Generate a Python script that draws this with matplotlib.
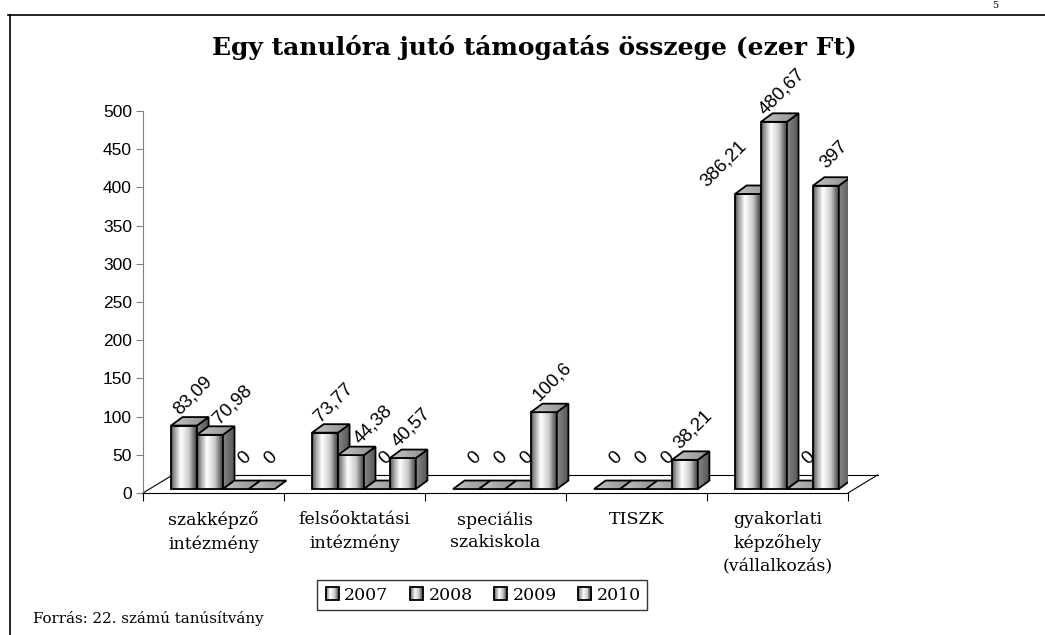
import numpy as np
import matplotlib.pyplot as plt
from matplotlib.colors import LinearSegmentedColormap
from matplotlib.patches import Polygon, Rectangle
from matplotlib.lines import Line2D
from matplotlib.legend_handler import HandlerBase

# data
categories = ['szakképző\nintézmény', 'felsőoktatási\nintézmény', 'speciális\nszakiskola',
              'TISZK', 'gyakorlati\nképzőhely\n(vállalkozás)']
years = ['2007', '2008', '2009', '2010']
v2007 = [83.09, 73.77, 0, 0, 386.21]
v2008 = [70.98, 44.38, 0, 0, 480.67]
v2009 = [0, 0, 0, 0, 0]
v2010 = [0, 40.57, 100.6, 38.21, 397]
yticks = list(range(0, 501, 50))

title = 'Egy tanulóra jutó támogatás összege (ezer Ft)'
source = 'Forrás: 22. számú tanúsítvány'
page_no = '5'

# fake 3d geometry (data units: x one group = 1, y = value)
W = 0.184          # bar width
X_OFF = 0.199      # first bar offset inside group
DX, DY = 0.082, 11.1   # depth of bars
BASE = 5.2         # bars stand a bit behind the front floor edge
FX, FY = 0.21, 23.6    # floor depth
LABEL_DY = 40

front_cmap = LinearSegmentedColormap.from_list(
    'front', [(0, '#404040'), (0.1, '#8a8a8a'), (0.38, '#ffffff'), (0.7, '#c8c8c8'), (1, '#3a3a3a')])
side_cmap = LinearSegmentedColormap.from_list('side', ['#858585', '#555555'])
top_cmap = LinearSegmentedColormap.from_list('top', ['#c4c4c4', '#8e8e8e'])
grad = np.linspace(0, 1, 256).reshape(1, -1)


def fmt(v):
    return f'{v:g}'.replace('.', ',')


def draw_bar(ax, x0, v, z, prev_v, next_v):
    y1 = BASE + v
    if v > 0:
        ax.imshow(grad, cmap=front_cmap, extent=(x0, x0 + W, BASE, y1), aspect='auto',
                  interpolation='bilinear', zorder=z)
        ax.add_patch(Rectangle((x0, BASE), W, v, fill=False, ec='k', lw=1.3, zorder=z + 0.01))
        side = Polygon([(x0 + W, BASE), (x0 + W + DX, BASE + DY), (x0 + W + DX, y1 + DY), (x0 + W, y1)],
                       closed=True, fill=False, ec='k', lw=1.3, zorder=z + 0.02)
        ax.add_patch(side)
        im = ax.imshow(grad, cmap=side_cmap, extent=(x0 + W, x0 + W + DX, BASE, y1 + DY), aspect='auto',
                       interpolation='bilinear', zorder=z + 0.015)
        im.set_clip_path(side)
    top = Polygon([(x0, y1), (x0 + W, y1), (x0 + W + DX, y1 + DY), (x0 + DX, y1 + DY)],
                  closed=True, fill=False, ec='k', lw=1.3, zorder=z + 0.04)
    ax.add_patch(top)
    im = ax.imshow(grad, cmap=top_cmap, extent=(x0, x0 + W + DX, y1, y1 + DY), aspect='auto',
                   interpolation='bilinear', zorder=z + 0.035)
    im.set_clip_path(top)
    # labels move aside when a neighbour bar would hide them
    shift = 0.06
    if v > 0 and next_v > v + 60:
        shift = -0.17
    elif v > 0 and prev_v > v:
        shift = 0.16
    ax.text(x0 + W / 2 + shift, y1 + LABEL_DY, fmt(v), rotation=45, rotation_mode='anchor',
            ha='center', va='center', fontsize=13.5, family='Liberation Sans', zorder=50,
            clip_on=False)


class GradientHandler(HandlerBase):
    def create_artists(self, legend, orig_handle, xdescent, ydescent, width, height, fontsize, trans):
        s = height * 1.1
        x0 = width - s
        y0 = (height - s) / 2
        arts = []
        n = 14
        for k in range(n):
            arts.append(Rectangle((x0 + s * k / n, y0), s / n + 0.2, s, fc=front_cmap((k + 0.5) / n),
                                  ec='none', transform=trans))
        arts.append(Rectangle((x0, y0), s, s, fill=False, ec='k', lw=1.3, transform=trans))
        return arts


fig = plt.figure(figsize=(10.45, 6.35), dpi=100)
ax = fig.add_axes([143 / 1045, 142 / 635, 705 / 1045, 382 / 635])

series = [v2007, v2008, v2009, v2010]
z = 10
for i in range(len(categories)):
    for j, vals in enumerate(series):
        prv = series[j - 1][i] if j > 0 else 0
        nxt = series[j + 1][i] if j + 1 < len(series) else 0
        draw_bar(ax, i + X_OFF + W * j, vals[i], z, prv, nxt)
        z += 0.1

# floor
ax.plot([0, FX], [0, FY], color='k', lw=0.8, zorder=2, clip_on=False)
ax.plot([FX, 5 + FX], [FY, FY], color='k', lw=0.8, zorder=2, clip_on=False)
ax.plot([5, 5 + FX], [0, FY], color='k', lw=0.8, zorder=2, clip_on=False)

ax.set_xlim(0, 5)
ax.set_ylim(0, 500)
ax.set_yticks(yticks)
ax.set_yticklabels([str(t) for t in yticks], fontsize=12.5, family='Liberation Sans')
ax.tick_params(axis='y', length=5, color='#808080', pad=3)
ax.set_xticks(range(6))
ax.set_xticklabels([])
ax.set_xticks([i + 0.5 for i in range(5)], minor=True)
ax.set_xticklabels(categories, minor=True, fontsize=12.5, family='DejaVu Serif', linespacing=1.45)
ax.tick_params(axis='x', which='major', length=6, color='k')
ax.tick_params(axis='x', which='minor', length=0, pad=13)
for s in ['top', 'right']:
    ax.spines[s].set_visible(False)
ax.spines['left'].set_color('#808080')
ax.spines['bottom'].set_color('k')
ax.patch.set_alpha(0)

handles = [Rectangle((0, 0), 1, 1) for _ in years]
leg = fig.legend(handles, years, loc='center', bbox_to_anchor=(482 / 1045, 1 - 595 / 635), ncol=4,
                 handler_map={Rectangle: GradientHandler()}, prop={'family': 'DejaVu Serif', 'size': 12.5},
                 handlelength=0.9, handletextpad=0.3, columnspacing=1.1, fancybox=False,
                 edgecolor='k', borderpad=0.35)
leg.get_frame().set_linewidth(1.0)

fig.text(534 / 1045, 1 - 47 / 635, title, ha='center', va='center', fontsize=18, fontweight='bold',
         family='DejaVu Serif')
fig.text(33 / 1045, 1 - 618 / 635, source, ha='left', va='center', fontsize=10.8, family='DejaVu Serif')
fig.text(995 / 1045, 1 - 1 / 635, page_no, ha='center', va='top', fontsize=7, family='DejaVu Serif')

# page frame
fig.add_artist(Line2D([8 / 1045, 1], [1 - 15 / 635] * 2, color='k', lw=1.2, transform=fig.transFigure))
fig.add_artist(Line2D([10 / 1045] * 2, [0, 1 - 15 / 635], color='k', lw=1.2, transform=fig.transFigure))

fig.savefig('out.png', dpi=100)
